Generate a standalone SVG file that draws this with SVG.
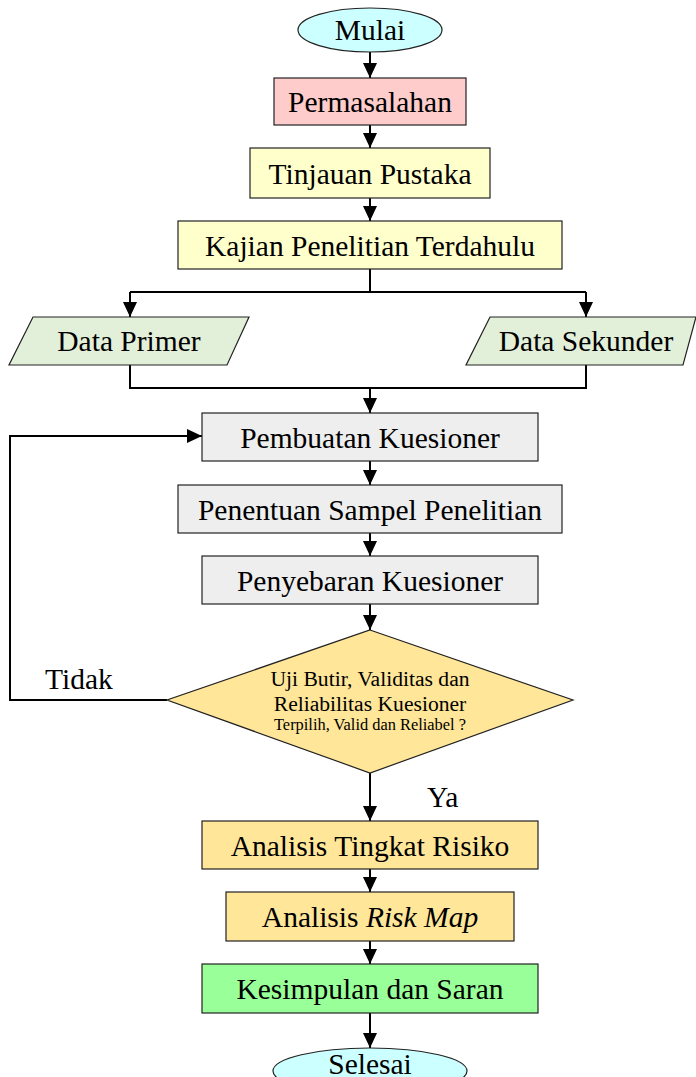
<svg xmlns="http://www.w3.org/2000/svg" width="696" height="1077" viewBox="0 0 696 1077">
<style>
.box{stroke:#222;stroke-width:1.2}
.t{font-family:"Liberation Serif","Times New Roman",serif;font-size:29.5px;fill:#000;text-anchor:middle}
.s{font-family:"Liberation Serif","Times New Roman",serif;fill:#000;text-anchor:middle}
.ln{fill:none;stroke:#000;stroke-width:2}
</style>
<defs>
<marker id="ah" markerUnits="userSpaceOnUse" markerWidth="15" markerHeight="14" refX="15" refY="7" orient="auto">
<path d="M0,0 L15,7 L0,14 z" fill="#000"/>
</marker>
</defs>
<rect width="696" height="1077" fill="#fff"/>
<g id="connectors">
<line class="ln" x1="370" y1="52" x2="370" y2="78" marker-end="url(#ah)"/>
<line class="ln" x1="370" y1="125" x2="370" y2="148" marker-end="url(#ah)"/>
<line class="ln" x1="370" y1="198" x2="370" y2="221" marker-end="url(#ah)"/>
<polyline class="ln" points="370,269 370,292"/>
<polyline class="ln" points="130,292 586,292"/>
<line class="ln" x1="130" y1="292" x2="130" y2="317" marker-end="url(#ah)"/>
<line class="ln" x1="586" y1="292" x2="586" y2="317" marker-end="url(#ah)"/>
<polyline class="ln" points="130,365 130,388 586,388 586,365"/>
<line class="ln" x1="370" y1="388" x2="370" y2="413" marker-end="url(#ah)"/>
<line class="ln" x1="370" y1="461" x2="370" y2="485" marker-end="url(#ah)"/>
<line class="ln" x1="370" y1="533" x2="370" y2="556" marker-end="url(#ah)"/>
<line class="ln" x1="370" y1="604" x2="370" y2="630" marker-end="url(#ah)"/>
<polyline class="ln" points="167,700 10,700 10,436 202,436" marker-end="url(#ah)"/>
<line class="ln" x1="370" y1="773" x2="370" y2="821" marker-end="url(#ah)"/>
<line class="ln" x1="370" y1="869" x2="370" y2="892" marker-end="url(#ah)"/>
<line class="ln" x1="370" y1="941" x2="370" y2="964" marker-end="url(#ah)"/>
<line class="ln" x1="370" y1="1013" x2="370" y2="1048" marker-end="url(#ah)"/>
<text class="t" x="45" y="689" style="text-anchor:start">Tidak</text>
<text class="t" x="427" y="807" style="text-anchor:start">Ya</text>
</g>
<g id="mulai">
<ellipse class="box" cx="370" cy="30" rx="72" ry="22" fill="#CCFFFF"/>
<text class="t" x="370" y="40">Mulai</text>
</g>
<g id="permasalahan">
<rect class="box" x="274" y="78" width="192" height="47" fill="#FFCCCC"/>
<text class="t" x="370" y="112">Permasalahan</text>
</g>
<g id="tinjauan">
<rect class="box" x="250" y="148" width="240" height="50" fill="#FFFFCC"/>
<text class="t" x="370" y="184">Tinjauan Pustaka</text>
</g>
<g id="kajian">
<rect class="box" x="178" y="221" width="384" height="48" fill="#FFFFCC"/>
<text class="t" x="370" y="256">Kajian Penelitian Terdahulu</text>
</g>
<g id="data-primer">
<polygon class="box" points="33,317 249,317 227,365 9,365" fill="#E2EFD9"/>
<text class="t" x="129" y="351">Data Primer</text>
</g>
<g id="data-sekunder">
<polygon class="box" points="490,317 696,317 683,365 466,365" fill="#E2EFD9"/>
<text class="t" x="586" y="351">Data Sekunder</text>
</g>
<g id="pembuatan">
<rect class="box" x="202" y="413" width="336" height="48" fill="#EEEEEE"/>
<text class="t" x="370" y="448">Pembuatan Kuesioner</text>
</g>
<g id="penentuan">
<rect class="box" x="178" y="485" width="384" height="48" fill="#EEEEEE"/>
<text class="t" x="370" y="520">Penentuan Sampel Penelitian</text>
</g>
<g id="penyebaran">
<rect class="box" x="202" y="556" width="336" height="48" fill="#EEEEEE"/>
<text class="t" x="370" y="591">Penyebaran Kuesioner</text>
</g>
<g id="uji">
<polygon class="box" points="370,630 573,700 370,773 167,700" fill="#FFE699"/>
<text class="s" x="370" y="686" font-size="21.6">Uji Butir, Validitas dan</text>
<text class="s" x="370" y="711" font-size="21.6">Reliabilitas Kuesioner</text>
<text class="s" x="370" y="730" font-size="16.4">Terpilih, Valid dan Reliabel ?</text>
</g>
<g id="analisis-tingkat">
<rect class="box" x="202" y="821" width="336" height="48" fill="#FFE699"/>
<text class="t" x="370" y="856">Analisis Tingkat Risiko</text>
</g>
<g id="analisis-risk-map">
<rect class="box" x="226" y="892" width="288" height="49" fill="#FFE699"/>
<text class="t" x="370" y="927">Analisis <tspan font-style="italic">Risk Map</tspan></text>
</g>
<g id="kesimpulan">
<rect class="box" x="202" y="964" width="336" height="49" fill="#99FF99"/>
<text class="t" x="370" y="999">Kesimpulan dan Saran</text>
</g>
<g id="selesai">
<ellipse class="box" cx="370" cy="1071" rx="97" ry="23" fill="#CCFFFF"/>
<text class="t" x="370" y="1074">Selesai</text>
</g>
</svg>
